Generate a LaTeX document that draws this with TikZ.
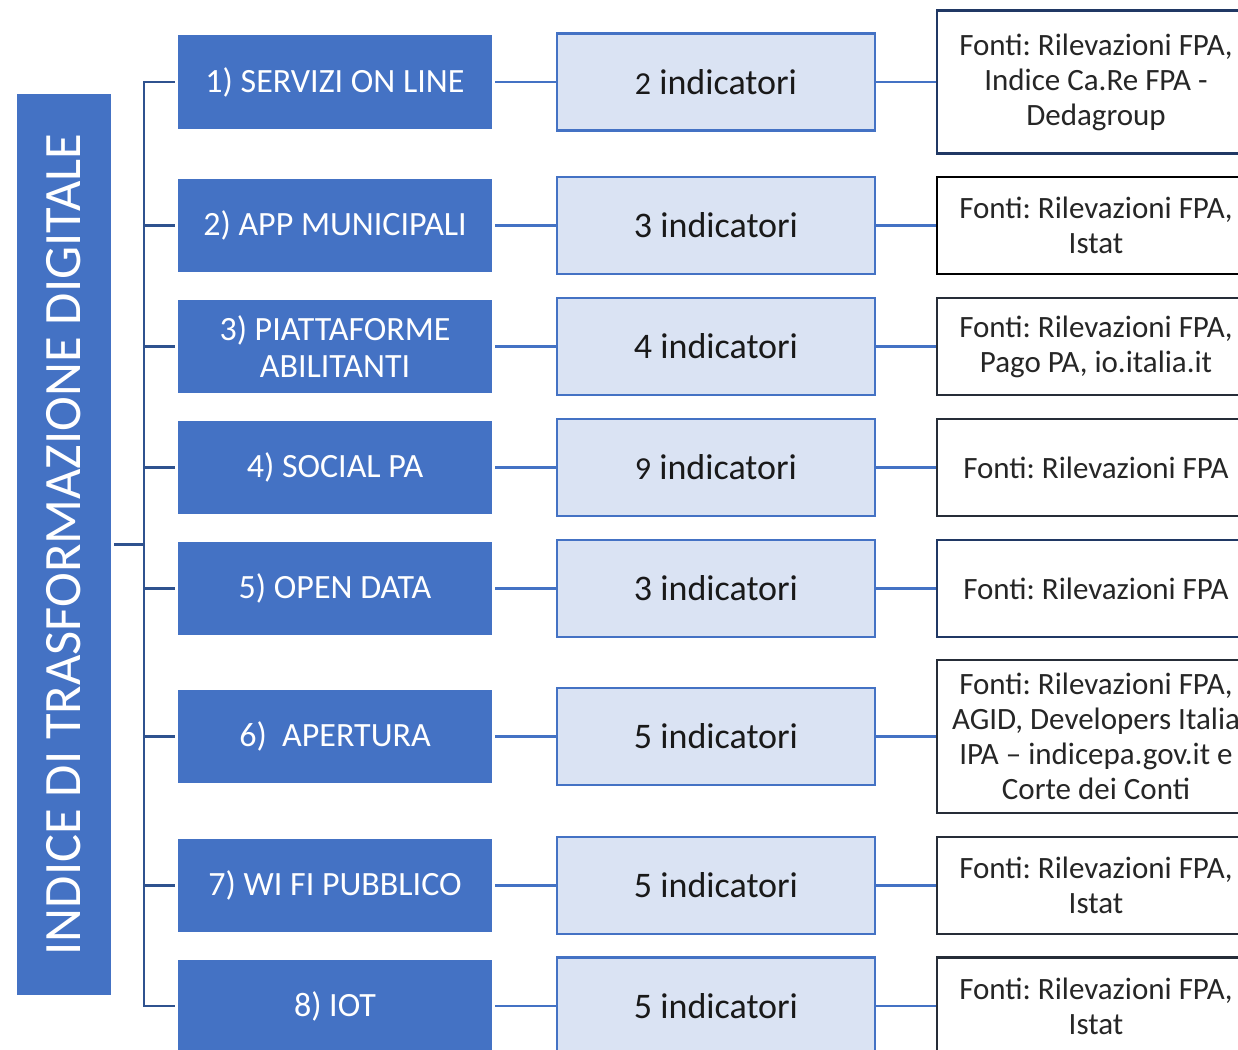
\documentclass[tikz,border=0pt]{standalone}
\usepackage{fontspec}
\setmainfont{Carlito}
\frenchspacing
\definecolor{areablue}{HTML}{4472C4}
\definecolor{indicfill}{HTML}{DAE3F3}
\definecolor{trunkblue}{HTML}{2F528F}
\definecolor{fontiedge}{HTML}{262D38}
\definecolor{fontinavy}{HTML}{203864}

\begin{document}
\begin{tikzpicture}[x=1pt,y=-1pt,
    area/.style={fill=areablue,text=white,inner sep=0pt,minimum width=314pt,minimum height=93pt,align=center,font=\fontsize{34}{37}\selectfont},
    indic/.style={fill=indicfill,draw=areablue,line width=2.5pt,inner sep=0pt,minimum width=318pt,minimum height=97pt,text=black!90,font=\fontsize{36}{40}\selectfont},
    fonti/.style={fill=white,draw=fontiedge,line width=2.5pt,inner sep=0pt,minimum width=318pt,minimum height=97pt,align=center,text=black!85,font=\fontsize{31}{35}\selectfont},
    trunk/.style={draw=trunkblue,line width=2.5pt},
    link/.style={draw=areablue,line width=2.5pt}]
    \fill[white] (0,0) rectangle (1238,1049);
    \useasboundingbox (0,0) rectangle (1238,1049);
    \node[fill=areablue,text=white,rotate=90,inner sep=0pt,minimum width=901pt,minimum height=94pt,font=\fontsize{52.5}{60}\selectfont] (indice) at (64,544.5) {INDICE DI TRASFORMAZIONE DIGITALE};
    \node[area] (s1) at (335,82) {1) SERVIZI ON LINE};
    \node[area] (s2) at (335,225.5) {2) APP MUNICIPALI};
    \node[area] (s3) at (335,346.5) {3) PIATTAFORME\\ABILITANTI};
    \node[area] (s4) at (335,467.5) {4) SOCIAL PA};
    \node[area] (s5) at (335,588.5) {5) OPEN DATA};
    \node[area] (s6) at (335,736.5) {6)\ \ APERTURA};
    \node[area] (s7) at (335,885.5) {7) WI FI PUBBLICO};
    \node[area] (s8) at (335,1006) {8) IOT};
    \node[indic] (i1) at (716,82) {{\fontsize{32}{40}\selectfont 2} indicatori};
    \node[indic] (i2) at (716,225.5) {3 indicatori};
    \node[indic] (i3) at (716,346.5) {4 indicatori};
    \node[indic] (i4) at (716,467.5) {{\fontsize{32}{40}\selectfont 9} indicatori};
    \node[indic] (i5) at (716,588.5) {3 indicatori};
    \node[indic] (i6) at (716,736.5) {5 indicatori};
    \node[indic] (i7) at (716,885.5) {5 indicatori};
    \node[indic] (i8) at (716,1006) {5 indicatori};
    \node[fonti,draw=fontinavy,minimum height=143pt] (f1) at (1096,82) {Fonti: Rilevazioni FPA,\\Indice Ca.Re FPA -\\Dedagroup};
    \node[fonti,draw=black] (f2) at (1096,225.5) {Fonti: Rilevazioni FPA,\\Istat};
    \node[fonti] (f3) at (1096,346.5) {Fonti: Rilevazioni FPA,\\Pago PA, io.italia.it};
    \node[fonti] (f4) at (1096,467.5) {Fonti: Rilevazioni FPA};
    \node[fonti,draw=fontinavy] (f5) at (1096,588.5) {Fonti: Rilevazioni FPA};
    \node[fonti,minimum height=153pt] (f6) at (1096,736.5) {Fonti: Rilevazioni FPA,\\AGID, Developers Italia\\IPA -- indicepa.gov.it e\\Corte dei Conti};
    \node[fonti] (f7) at (1096,885.5) {Fonti: Rilevazioni FPA,\\Istat};
    \node[fonti] (f8) at (1096,1006) {Fonti: Rilevazioni FPA,\\Istat};
    \coordinate (t) at (144,544.5);
    \draw[trunk] ([xshift=3pt]indice.south) -- (t);
    \draw[trunk,shorten <=3pt] (s1.west) -| (t);
    \draw[trunk,shorten <=3pt] (s2.west) -| (t);
    \draw[trunk,shorten <=3pt] (s3.west) -| (t);
    \draw[trunk,shorten <=3pt] (s4.west) -| (t);
    \draw[trunk,shorten <=3pt] (s5.west) -| (t);
    \draw[trunk,shorten <=3pt] (s6.west) -| (t);
    \draw[trunk,shorten <=3pt] (s7.west) -| (t);
    \draw[trunk,shorten <=3pt] (s8.west) -| (t);
    \draw[link,shorten <=3pt] (s1.east) -- (i1.west);
    \draw[link,shorten <=3pt] (s2.east) -- (i2.west);
    \draw[link,shorten <=3pt] (s3.east) -- (i3.west);
    \draw[link,shorten <=3pt] (s4.east) -- (i4.west);
    \draw[link,shorten <=3pt] (s5.east) -- (i5.west);
    \draw[link,shorten <=3pt] (s6.east) -- (i6.west);
    \draw[link,shorten <=3pt] (s7.east) -- (i7.west);
    \draw[link,shorten <=3pt] (s8.east) -- (i8.west);
    \draw[link] (i1.east) -- (f1.west);
    \draw[link] (i2.east) -- (f2.west);
    \draw[link] (i3.east) -- (f3.west);
    \draw[link] (i4.east) -- (f4.west);
    \draw[link] (i5.east) -- (f5.west);
    \draw[link] (i6.east) -- (f6.west);
    \draw[link] (i7.east) -- (f7.west);
    \draw[link] (i8.east) -- (f8.west);
\end{tikzpicture}
\end{document}
